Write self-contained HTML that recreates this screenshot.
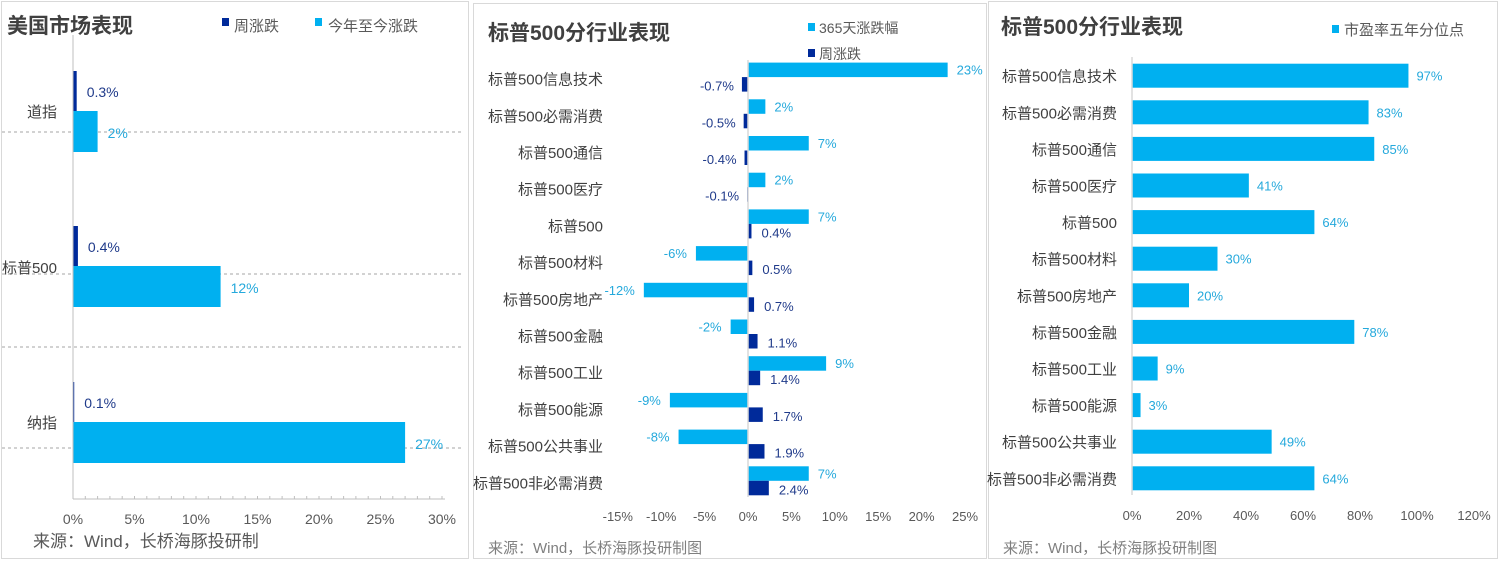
<!DOCTYPE html>
<html><head><meta charset="utf-8"><style>
body{margin:0;width:1500px;height:561px;background:#fff;overflow:hidden;font-family:"Liberation Sans","Noto Sans CJK SC",sans-serif;}
svg text{font-family:"Liberation Sans","Noto Sans CJK SC",sans-serif;}
</style></head><body>
<svg id="s" width="1500" height="561">
<rect x="1.5" y="1.5" width="467" height="557" fill="#fff" stroke="#d9d9d9"/>
<rect x="473.5" y="3.5" width="513" height="555" fill="#fff" stroke="#d9d9d9"/>
<rect x="988.5" y="1.5" width="509" height="557" fill="#fff" stroke="#d9d9d9"/>
<g id="g1"></g><g id="g2"></g><g id="g3"></g>
</svg>
<script>
const mkt = ['道指','标普500','纳指'];
const weekly1 = [0.3,0.4,0.1];
const ytd1 = [2,12,27];
const ytdLabels1 = ['2%','12%','27%'];
const ticks1 = [0,5,10,15,20,25,30];

const sectors = ['标普500信息技术','标普500必需消费','标普500通信','标普500医疗','标普500','标普500材料','标普500房地产','标普500金融','标普500工业','标普500能源','标普500公共事业','标普500非必需消费'];
const y365 = [23,2,7,2,7,-6,-12,-2,9,-9,-8,7];
const weekly2 = [-0.7,-0.5,-0.4,-0.1,0.4,0.5,0.7,1.1,1.4,1.7,1.9,2.4];
const ticks2 = [-15,-10,-5,0,5,10,15,20,25];

const pe = [97,83,85,41,64,30,20,78,9,3,49,64];
const ticks3 = [0,20,40,60,80,100,120];

const NS='http://www.w3.org/2000/svg';
function el(p,t,a,txt){const e=document.createElementNS(NS,t);for(const k in a)e.setAttribute(k,a[k]);if(txt!==undefined)e.textContent=txt;p.appendChild(e);return e;}
const CY='#00b0f0', NV='#002a9a', TX='#404040', CL='#25a9dc', NL='#1f3a8a';

// Panel 1
const g1=document.getElementById('g1');
const x1=v=>73+v*12.3;
let t=el(g1,'text',{x:7,y:33,'font-size':21,'font-weight':'bold',fill:TX},'美国市场表现');

let r=el(g1,'rect',{x:222,y:18,width:7,height:8,fill:NV});
t=el(g1,'text',{x:234,y:31,'font-size':15,fill:'#595959'},'周涨跌');
r=el(g1,'rect',{x:315,y:18,width:7,height:8,fill:CY});
t=el(g1,'text',{x:328,y:31,'font-size':15,fill:'#595959'},'今年至今涨跌');
[132,274,347,448].forEach(y=>{const l=el(g1,'line',{x1:2,x2:462,y1:y,y2:y,stroke:'#a6a6a6','stroke-dasharray':'3,3'});});
const gt1=[71,226,382];
mkt.forEach((m,i)=>{
 const y0=gt1[i];
 let b=el(g1,'rect',{x:x1(0),y:y0,width:x1(weekly1[i])-x1(0),height:40,fill:NV});
 let c=el(g1,'rect',{x:x1(0),y:y0+40,width:x1(ytd1[i])-x1(0),height:41,fill:CY});
 let a=el(g1,'text',{x:x1(weekly1[i])+10,y:y0+26,'font-size':14,fill:NL},weekly1[i].toFixed(1)+'%');
 let d=el(g1,'text',{x:x1(ytd1[i])+10,y:y0+67,'font-size':14,fill:CL},ytdLabels1[i]);
 let ct=el(g1,'text',{x:57,y:[117,273,428][i],'font-size':15,fill:TX,'text-anchor':'end'},m);
});
let ax=el(g1,'line',{x1:73,x2:73,y1:35,y2:499,stroke:'#bfbfbf'});
ax=el(g1,'line',{x1:73,x2:445,y1:499,y2:499,stroke:'#bfbfbf'});
for(let v=0;v<=30;v+=1){el(g1,'line',{x1:x1(v),x2:x1(v),y1:496,y2:499,stroke:'#bfbfbf'});}
ticks1.forEach(v=>{const k=el(g1,'text',{x:x1(v),y:524,'font-size':14,fill:'#595959','text-anchor':'middle'},v+'%');});
t=el(g1,'text',{x:33,y:547,'font-size':17,fill:'#595959'},'来源：Wind，长桥海豚投研制');

// Panel 2
const g2=document.getElementById('g2');
const x2=v=>748+v*8.68;
t=el(g2,'text',{x:488,y:40,'font-size':21,'font-weight':'bold',fill:TX},'标普500分行业表现');
r=el(g2,'rect',{x:808,y:23,width:7,height:8,fill:CY});
t=el(g2,'text',{x:819,y:33,'font-size':14,fill:'#595959'},'365天涨跌幅');
r=el(g2,'rect',{x:808,y:49,width:7,height:8,fill:NV});
t=el(g2,'text',{x:819,y:59,'font-size':14,fill:'#595959'},'周涨跌');
sectors.forEach((s,i)=>{
 const y0=62.6+i*36.7;
 const v=y365[i],w=weekly2[i];
 let b=el(g2,'rect',{x:Math.min(x2(0),x2(v)),y:y0,width:Math.abs(x2(v)-x2(0)),height:14.5,fill:CY});
 let c=el(g2,'rect',{x:Math.min(x2(0),x2(w)),y:y0+14.5,width:Math.abs(x2(w)-x2(0)),height:14.5,fill:NV});
 let a=el(g2,'text',{x:v>=0?x2(v)+9:x2(v)-9,y:y0+12,'font-size':13,fill:CL,'text-anchor':v>=0?'start':'end'},v+'%');
 let d=el(g2,'text',{x:w>=0?x2(w)+10:x2(w)-8,y:y0+28,'font-size':13,fill:NL,'text-anchor':w>=0?'start':'end'},w.toFixed(1)+'%');
 let ct=el(g2,'text',{x:603,y:y0+22,'font-size':15,fill:TX,'text-anchor':'end'},s);
});
ax=el(g2,'line',{x1:x2(0),x2:x2(0),y1:60,y2:497,stroke:'#d9d9d9','stroke-width':1.5});
ticks2.forEach(v=>{const k=el(g2,'text',{x:x2(v),y:521,'font-size':13,fill:'#595959','text-anchor':'middle'},v+'%');});
t=el(g2,'text',{x:488,y:553,'font-size':15,fill:'#7f7f7f'},'来源：Wind，长桥海豚投研制图');

// Panel 3
const g3=document.getElementById('g3');
const x3=v=>1132+v*2.85;
t=el(g3,'text',{x:1001,y:34,'font-size':21,'font-weight':'bold',fill:TX},'标普500分行业表现');
r=el(g3,'rect',{x:1332,y:25,width:7,height:8,fill:CY});
t=el(g3,'text',{x:1344,y:35,'font-size':15,fill:'#595959'},'市盈率五年分位点');
sectors.forEach((s,i)=>{
 const y0=63.7+i*36.6;
 let b=el(g3,'rect',{x:x3(0),y:y0,width:x3(pe[i])-x3(0),height:24,fill:CY});
 let a=el(g3,'text',{x:x3(pe[i])+8,y:y0+17,'font-size':13,fill:CL},pe[i]+'%');
 let ct=el(g3,'text',{x:1117,y:y0+18,'font-size':15,fill:TX,'text-anchor':'end'},s);
});
ax=el(g3,'line',{x1:1132,x2:1132,y1:57,y2:495,stroke:'#d9d9d9','stroke-width':1.5});
ticks3.forEach(v=>{const k=el(g3,'text',{x:x3(v),y:520,'font-size':13,fill:'#595959','text-anchor':'middle'},v+'%');});
t=el(g3,'text',{x:1003,y:553,'font-size':15,fill:'#7f7f7f'},'来源：Wind，长桥海豚投研制图');
</script>
</body></html>
